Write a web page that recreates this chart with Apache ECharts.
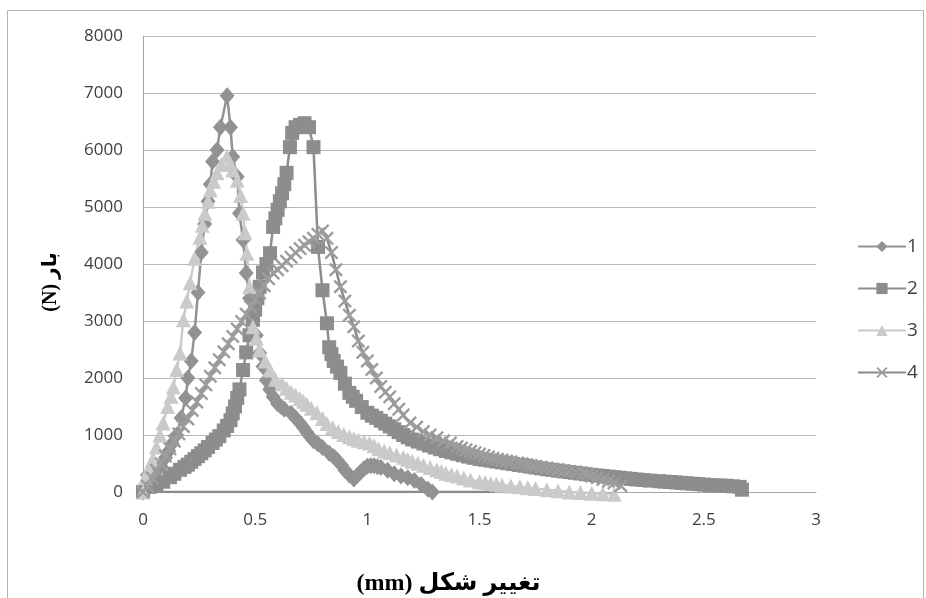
<!DOCTYPE html>
<html>
<head>
<meta charset="utf-8">
<script src="https://cdn.jsdelivr.net/npm/echarts@6/dist/echarts.min.js"></script>
<style>
html,body{margin:0;padding:0;background:#fff;}
#c{width:926px;height:598px;}
</style>
</head>
<body>
<div id="c"></div>
<script>
var seriesNames = ['1', '2', '3', '4'];
var xTicks = [0, 0.5, 1, 1.5, 2, 2.5, 3];
var yTicks = [0, 1000, 2000, 3000, 4000, 5000, 6000, 7000, 8000];

var s1 = [[0,0],[0.02,300],[0.035,330],[0.05,350],[0.065,400],[0.08,450],[0.1,600],[0.115,720],[0.13,850],[0.15,1000],[0.17,1300],[0.19,1650],[0.2,2000],[0.215,2300],[0.23,2800],[0.245,3500],[0.26,4200],[0.275,4700],[0.29,5100],[0.3,5400],[0.31,5800],[0.33,6000],[0.345,6400],[0.375,6950],[0.39,6400],[0.4,5880],[0.42,5530],[0.43,4890],[0.446,4420],[0.46,3840],[0.475,3400],[0.49,3020],[0.505,2750],[0.52,2440],[0.535,2200],[0.55,1960],[0.565,1800],[0.58,1670],[0.6,1550],[0.615,1500],[0.63,1450],[0.66,1380],[0.68,1300],[0.7,1210],[0.715,1130],[0.73,1050],[0.745,970],[0.76,900],[0.78,840],[0.8,780],[0.83,680],[0.85,620],[0.865,560],[0.885,470],[0.9,380],[0.92,300],[0.94,230],[0.955,290],[0.97,350],[0.985,410],[1.0,450],[1.015,460],[1.03,460],[1.045,445],[1.06,430],[1.09,380],[1.12,320],[1.15,280],[1.18,250],[1.21,200],[1.24,130],[1.27,50],[1.29,0]];

var s2 = [[0,0],[0.03,90],[0.06,120],[0.09,180],[0.12,260],[0.14,320],[0.165,390],[0.185,440],[0.2,480],[0.215,530],[0.23,580],[0.245,630],[0.26,680],[0.275,730],[0.29,790],[0.31,860],[0.325,920],[0.34,980],[0.36,1080],[0.375,1160],[0.39,1260],[0.4,1380],[0.41,1500],[0.42,1650],[0.43,1800],[0.446,2140],[0.46,2450],[0.475,2750],[0.49,3020],[0.5,3200],[0.51,3400],[0.52,3600],[0.535,3850],[0.55,4000],[0.566,4190],[0.58,4650],[0.59,4800],[0.6,4950],[0.61,5100],[0.62,5240],[0.63,5400],[0.64,5600],[0.655,6050],[0.665,6300],[0.68,6400],[0.7,6440],[0.72,6470],[0.74,6400],[0.76,6050],[0.78,4300],[0.8,3540],[0.82,2960],[0.83,2540],[0.84,2420],[0.85,2300],[0.865,2200],[0.88,2090],[0.9,1900],[0.92,1740],[0.935,1670],[0.95,1600],[0.975,1490],[1.0,1390],[1.02,1340],[1.04,1300],[1.06,1250],[1.08,1200],[1.1,1150],[1.12,1100],[1.14,1050],[1.16,1000],[1.18,960],[1.2,920],[1.225,885],[1.25,850],[1.275,815],[1.3,780],[1.325,750],[1.35,720],[1.375,695],[1.4,670],[1.425,645],[1.45,620],[1.475,600],[1.5,580],[1.525,565],[1.55,550],[1.575,535],[1.6,520],[1.625,505],[1.65,490],[1.675,475],[1.7,460],[1.725,445],[1.75,430],[1.775,415],[1.8,400],[1.825,388],[1.85,375],[1.875,362],[1.9,350],[1.925,338],[1.95,325],[1.975,312],[2.0,300],[2.025,290],[2.05,280],[2.075,270],[2.1,260],[2.125,250],[2.15,240],[2.175,230],[2.2,220],[2.23,210],[2.26,200],[2.3,190],[2.325,182],[2.35,175],[2.375,168],[2.4,160],[2.425,152],[2.45,145],[2.475,138],[2.5,130],[2.525,122],[2.55,115],[2.575,112],[2.6,110],[2.63,100],[2.66,90],[2.67,40]];

var s3 = [[0,0],[0.01,250],[0.025,400],[0.04,550],[0.06,790],[0.075,1000],[0.09,1210],[0.11,1500],[0.125,1680],[0.135,1840],[0.15,2150],[0.165,2440],[0.18,3020],[0.195,3350],[0.21,3670],[0.23,4100],[0.254,4470],[0.265,4680],[0.276,4890],[0.29,5100],[0.3,5300],[0.315,5450],[0.33,5600],[0.35,5750],[0.374,5880],[0.39,5750],[0.4,5650],[0.42,5470],[0.435,5200],[0.446,4890],[0.455,4550],[0.463,4190],[0.475,3600],[0.49,2900],[0.505,2700],[0.52,2490],[0.545,2300],[0.566,2140],[0.59,1980],[0.62,1900],[0.64,1820],[0.66,1750],[0.68,1700],[0.7,1640],[0.715,1590],[0.73,1540],[0.75,1470],[0.775,1390],[0.8,1290],[0.82,1200],[0.845,1130],[0.87,1060],[0.895,1010],[0.92,970],[0.94,940],[0.96,910],[0.985,880],[1.01,860],[1.03,810],[1.05,760],[1.075,720],[1.1,690],[1.13,650],[1.16,610],[1.18,575],[1.2,540],[1.225,505],[1.25,470],[1.28,430],[1.31,390],[1.33,360],[1.35,330],[1.375,305],[1.4,280],[1.43,245],[1.46,210],[1.5,180],[1.525,165],[1.55,150],[1.575,135],[1.6,120],[1.64,105],[1.68,90],[1.715,75],[1.75,60],[1.8,40],[1.85,20],[1.9,0],[1.95,-10],[2.0,-20],[2.05,-30],[2.1,-40]];

var s4 = [[0,0],[0.02,100],[0.04,250],[0.06,380],[0.08,500],[0.1,630],[0.12,760],[0.14,890],[0.16,1020],[0.18,1150],[0.2,1280],[0.22,1430],[0.24,1580],[0.26,1730],[0.28,1880],[0.3,2030],[0.32,2180],[0.34,2320],[0.36,2460],[0.38,2600],[0.4,2730],[0.42,2860],[0.44,2990],[0.46,3120],[0.48,3250],[0.5,3380],[0.52,3490],[0.54,3620],[0.56,3740],[0.58,3840],[0.6,3900],[0.62,3970],[0.64,4050],[0.66,4120],[0.68,4200],[0.7,4270],[0.72,4330],[0.74,4390],[0.76,4450],[0.78,4520],[0.8,4580],[0.82,4450],[0.84,4200],[0.86,3900],[0.88,3600],[0.9,3350],[0.92,3100],[0.94,2900],[0.96,2650],[0.98,2450],[1.0,2300],[1.02,2150],[1.04,2000],[1.06,1850],[1.08,1750],[1.1,1670],[1.12,1550],[1.14,1450],[1.16,1350],[1.19,1210],[1.22,1140],[1.25,1060],[1.28,1000],[1.31,950],[1.34,900],[1.37,860],[1.4,800],[1.42,770],[1.44,740],[1.46,715],[1.48,690],[1.5,665],[1.52,640],[1.54,615],[1.56,590],[1.58,575],[1.6,560],[1.62,545],[1.64,530],[1.67,510],[1.69,495],[1.71,480],[1.73,465],[1.75,450],[1.775,435],[1.8,420],[1.825,405],[1.85,390],[1.875,375],[1.9,360],[1.93,345],[1.96,330],[1.98,305],[2.0,280],[2.025,250],[2.05,220],[2.075,190],[2.1,160],[2.13,110]];

var baseLine = [[0,0],[1.75,0]];

var xMark = 'path://M0,1.2L1.2,0L5,3.8L8.8,0L10,1.2L6.2,5L10,8.8L8.8,10L5,6.2L1.2,10L0,8.8L3.8,5Z';

var chart = echarts.init(document.getElementById('c'), null, {renderer: 'canvas'});
var tickFont = '"Liberation Sans Narrow", "Open Sans", sans-serif';
chart.setOption({
  animation: false,
  backgroundColor: '#ffffff',
  graphic: [{
    type: 'rect', left: 5, top: 8, silent: true,
    shape: {width: 916, height: 620},
    style: {fill: 'none', stroke: '#b3b3b3', lineWidth: 1}
  }],
  grid: {left: 143, right: 110, top: 36, bottom: 106, outerBoundsMode: 'none', containLabel: false},
  legend: {
    data: seriesNames,
    orient: 'vertical',
    left: 852, top: 232,
    itemWidth: 48, itemHeight: 14, itemGap: 23,
    textStyle: {fontFamily: tickFont, fontSize: 19, color: '#404040', padding: [0,0,0,-4]}
  },
  xAxis: {
    type: 'value', min: xTicks[0], max: xTicks[xTicks.length-1], interval: 0.5,
    name: '(mm) تغییر شکل', nameLocation: 'middle', nameGap: 80,
    nameTextStyle: {fontFamily: '"Liberation Serif", "DejaVu Sans", serif', fontWeight: 'bold', fontSize: 24, color: '#000', padding: [0, 62, 0, 0]},
    axisLine: {show: true, lineStyle: {color: '#a6a6a6', width: 1}},
    axisTick: {show: false},
    splitLine: {show: false},
    axisLabel: {fontFamily: tickFont, fontSize: 17, color: '#404040', margin: 20,
      formatter: function (v) { return String(v); }}
  },
  yAxis: {
    type: 'value', min: yTicks[0], max: yTicks[yTicks.length-1], interval: 1000,
    name: '(N) بار', nameLocation: 'middle', nameGap: 82, nameRotate: 90,
    nameTextStyle: {fontFamily: '"Liberation Serif", "DejaVu Sans", serif', fontWeight: 'bold', fontSize: 20, color: '#000', padding: [0, 36, 0, 0]},
    axisLine: {show: true, lineStyle: {color: '#a6a6a6', width: 1}},
    axisTick: {show: false},
    splitLine: {show: true, lineStyle: {color: '#b8b8b8', width: 1}},
    axisLabel: {fontFamily: tickFont, fontSize: 17, color: '#404040', margin: 20,
      formatter: function (v) { return String(v); }}
  },
  series: [
    {name: seriesNames[0], type: 'line', data: s1, symbol: 'diamond', symbolSize: [15,17], clip: false,
     lineStyle: {color: '#929292', width: 2.5}, itemStyle: {color: '#929292'}},
    {name: seriesNames[1], type: 'line', data: s2, symbol: 'rect', symbolSize: 14, clip: false,
     lineStyle: {color: '#8d8d8d', width: 2.5}, itemStyle: {color: '#8d8d8d'}},
    {name: seriesNames[2], type: 'line', data: s3, symbol: 'triangle', symbolSize: 15, clip: false,
     lineStyle: {color: '#cacaca', width: 2.5}, itemStyle: {color: '#cacaca'}},
    {name: seriesNames[3], type: 'line', data: s4, symbol: xMark, symbolSize: 14, clip: false,
     lineStyle: {color: '#8a8a8a', width: 2.5}, itemStyle: {color: '#9c9c9c'}},
    {type: 'line', data: baseLine, symbol: 'none', silent: true,
     lineStyle: {color: '#8a8a8a', width: 2.5}}
  ]
});
</script>
</body>
</html>
